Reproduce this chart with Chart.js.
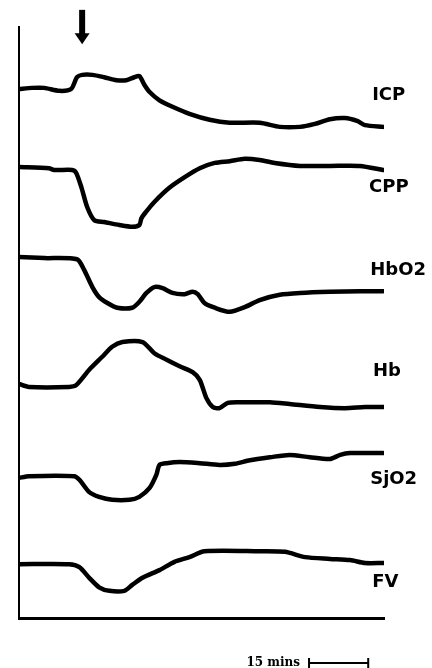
<!DOCTYPE html>
<html>
<head>
<meta charset="utf-8">
<script src="https://cdn.jsdelivr.net/npm/chart.js@4"></script>
<style>
  body { margin: 0; background: #fff; }
  #wrap { width: 432px; height: 668px; position: relative; }
</style>
</head>
<body>
<div id="wrap"><canvas id="board"></canvas></div>
<script>
// time is in minutes, trace levels in arbitrary display units (0 = time axis)
const icpTime = [0, 3.3, 6.4, 10.2, 13.2, 14.7, 16.0, 18.6, 21.6, 24.7, 27.2, 29.2, 30.5, 31.8, 33.1, 35.6, 38.9, 43.2, 48.3, 53.4, 61.0, 66.1, 71.2, 75.0, 78.8, 82.6, 85.7, 87.7, 92.3];
const icpValues = [89.5, 89.7, 89.7, 89.2, 89.5, 91.5, 91.9, 91.9, 91.5, 91.0, 91.0, 91.5, 91.7, 90.2, 89.0, 87.6, 86.5, 85.3, 84.3, 83.8, 83.8, 83.1, 83.1, 83.6, 84.4, 84.6, 84.1, 83.4, 83.1];

const cppTime = [0, 7.6, 8.9, 13.5, 14.5, 15.8, 17.3, 19.1, 21.6, 25.4, 28.7, 30.5, 31.0, 31.8, 34.3, 38.1, 42.0, 45.8, 49.6, 53.4, 57.2, 61.0, 64.8, 71.2, 78.8, 86.4, 92.3];
const cppValues = [76.3, 76.1, 75.8, 75.8, 75.3, 72.9, 69.5, 67.3, 67.0, 66.5, 66.2, 66.5, 67.6, 68.4, 70.4, 72.8, 74.6, 76.1, 77.0, 77.3, 77.7, 77.5, 77.0, 76.5, 76.5, 76.5, 75.8];

const hbo2Time = [0, 6.4, 14.7, 16.5, 18.6, 20.3, 22.4, 24.9, 28.7, 30.5, 32.3, 34.3, 36.4, 38.9, 42.0, 44.0, 45.3, 47.0, 49.6, 53.4, 57.2, 61.0, 66.1, 71.2, 78.8, 86.4, 92.3];
const hbo2Values = [61.1, 60.9, 60.7, 58.9, 56.0, 54.3, 53.3, 52.5, 52.5, 53.5, 55.0, 56.0, 55.8, 55.0, 54.8, 55.2, 54.8, 53.3, 52.5, 51.8, 52.6, 53.8, 54.7, 55.0, 55.2, 55.3, 55.3];

const hbTime = [0, 2.5, 12.7, 14.5, 17.8, 21.1, 23.6, 26.2, 31.3, 34.3, 37.4, 40.7, 44.0, 45.8, 47.5, 49.1, 50.8, 52.9, 55.9, 63.6, 68.6, 76.3, 82.6, 87.7, 92.3];
const hbValues = [39.6, 39.1, 39.1, 39.4, 42.0, 44.2, 45.9, 46.7, 46.7, 44.8, 43.7, 42.6, 41.6, 40.3, 37.2, 35.7, 35.5, 36.4, 36.5, 36.5, 36.2, 35.7, 35.5, 35.7, 35.7];

const sjo2Time = [0, 2.5, 14.0, 15.3, 17.8, 20.3, 23.6, 28.0, 30.5, 33.1, 34.8, 35.6, 37.4, 40.7, 45.8, 50.8, 54.7, 58.5, 63.6, 68.6, 73.7, 78.8, 81.4, 83.9, 92.3];
const sjo2Values = [23.7, 24.0, 24.0, 23.4, 21.3, 20.5, 20.0, 20.0, 20.5, 22.0, 24.2, 25.9, 26.2, 26.4, 26.2, 25.9, 26.1, 26.7, 27.2, 27.6, 27.2, 26.9, 27.6, 27.9, 27.9];

const fvTime = [0, 12.7, 15.3, 17.8, 20.3, 22.9, 26.7, 28.7, 31.3, 35.6, 39.4, 43.2, 47.0, 61.0, 67.4, 72.5, 78.8, 83.9, 87.7, 92.3];
const fvValues = [9.1, 9.1, 8.6, 6.8, 5.2, 4.6, 4.6, 5.6, 6.8, 8.1, 9.5, 10.3, 11.3, 11.3, 11.2, 10.3, 10.0, 9.8, 9.3, 9.3];

const traceNames = ["ICP", "CPP", "HbO2", "Hb", "SjO2", "FV"];
const labelTime = [89.5, 88.7, 89.0, 89.7, 89.0, 89.5];
const labelLevel = [88.5, 72.9, 58.9, 41.8, 23.4, 6.1];

const arrowTime = 16.0;          // event marker
const scaleBarMins = [73.5, 88.5]; // 15 mins

const traces = [
    [icpTime, icpValues], [cppTime, cppValues], [hbo2Time, hbo2Values],
    [hbTime, hbValues], [sjo2Time, sjo2Values], [fvTime, fvValues]
];

function toPoints(times, values) {
    return times.map((t, i) => ({ x: t, y: values[i] }));
}

// labels, event arrow and the time scale bar
const annotations = {
    id: 'annotations',
    afterDraw(chart) {
        const ctx = chart.ctx;
        const xs = chart.scales.x;
        const ys = chart.scales.y;
        ctx.save();
        ctx.fillStyle = '#000';
        ctx.strokeStyle = '#000';

        ctx.font = 'bold 18px "DejaVu Sans"';
        ctx.textBaseline = 'middle';
        ctx.textAlign = 'left';
        for (let i = 0; i < traceNames.length; ++i) {
            ctx.fillText(traceNames[i], xs.getPixelForValue(labelTime[i]), ys.getPixelForValue(labelLevel[i]));
        }

        // arrow
        const ax = xs.getPixelForValue(arrowTime);
        const aTop = ys.getPixelForValue(102.9);
        const aTip = ys.getPixelForValue(97.1);
        ctx.fillRect(ax - 3, aTop, 6, aTip - aTop - 10);
        ctx.beginPath();
        ctx.moveTo(ax - 7.5, aTip - 11);
        ctx.lineTo(ax + 7.5, aTip - 11);
        ctx.lineTo(ax, aTip);
        ctx.closePath();
        ctx.fill();

        // scale bar
        const x1 = xs.getPixelForValue(scaleBarMins[0]);
        const x2 = xs.getPixelForValue(scaleBarMins[1]);
        const by = ys.getPixelForValue(-7.6);
        ctx.lineWidth = 2;
        ctx.beginPath();
        ctx.moveTo(x1, by); ctx.lineTo(x2, by);
        ctx.moveTo(x1, by - 5); ctx.lineTo(x1, by + 5);
        ctx.moveTo(x2, by - 5); ctx.lineTo(x2, by + 5);
        ctx.stroke();
        ctx.font = 'bold 12px "DejaVu Serif"';
        ctx.textAlign = 'right';
        ctx.fillText('15 mins', x1 - 9, by);
        ctx.restore();
    }
};

function makeTraceChart() {
    const datasets = traces.map((tr, i) => ({
        label: traceNames[i],
        data: toPoints(tr[0], tr[1]),
        borderColor: '#000',
        borderWidth: 4.5,
        pointRadius: 0,
        tension: 0.25,
        borderJoinStyle: 'round',
        borderCapStyle: 'round',
        fill: false
    }));

    const config = {
        type: 'line',
        data: { datasets: datasets },
        options: {
            responsive: true,
            maintainAspectRatio: false,
            animation: false,
            layout: { padding: { left: 19, right: 48, top: 27, bottom: 50 } },
            plugins: { legend: { display: false }, tooltip: { enabled: false } },
            scales: {
                x: {
                    type: 'linear', min: 0, max: 92.5,
                    grid: { display: false, drawTicks: false },
                    ticks: { display: false },
                    border: { display: true, color: '#000', width: 3 }
                },
                y: {
                    min: 0, max: 100,
                    grid: { display: false, drawTicks: false },
                    ticks: { display: false },
                    border: { display: true, color: '#000', width: 2 }
                }
            }
        },
        plugins: [annotations]
    };
    new Chart(document.getElementById('board'), config);
}

makeTraceChart();
</script>
</body>
</html>
